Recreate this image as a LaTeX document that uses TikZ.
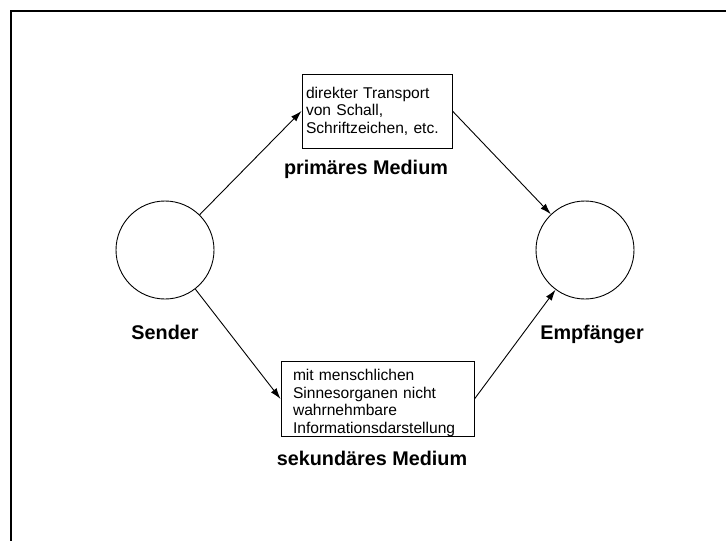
\documentclass[tikz,border=0pt]{standalone}
\usepackage{fontspec}
\setmainfont{Liberation Sans}
\usetikzlibrary{arrows.meta}

\begin{document}
\begin{tikzpicture}[x=1pt, y=-1pt,
        party/.style={draw, line width=0.9pt, circle, minimum size=98pt, inner sep=0pt},
        medium/.style={draw, line width=0.9pt, rectangle, align=left, inner ysep=0pt,
            font=\fontsize{15.6}{17.5}\selectfont},
        caption/.style={anchor=base, font=\fontsize{19.8}{22}\selectfont\bfseries},
        ->/.style={-{Latex[length=11pt, width=7pt]}, line width=0.9pt}]
        \useasboundingbox (0, 0) rectangle (726, 541);
        \draw[line width=1.6pt] (726, 11) -- (11, 11) -- (11, 541);

        \node[party] (sender) at (165, 250) {};
        \node[party] (empf) at (585, 250) {};
        \node[caption] (senderlabel) at (165, 339) {Sender};
        \node[caption] (empflabel) at (592, 339) {Empfänger};

        \node[medium, text width=142pt, inner xsep=4pt, minimum height=74pt] (prim) at (377, 111)
            {direkter Transport\\von Schall,\\Schriftzeichen, etc.};
        \node[caption] (primlabel) at (366, 174) {primäres Medium};

        \node[medium, text width=169pt, inner xsep=12pt, minimum height=73pt] (sek) at (377.5, 399)
            {\rule{0pt}{19pt}mit menschlichen\\Sinnesorganen nicht\\wahrnehmbare\\Informationsdarstellung};
        \node[caption] (seklabel) at (372, 465) {sekundäres Medium};

        \draw[->] (sender) -- (prim.west);
        \draw[->] (prim.east) -- (empf);
        \draw[->] (sender) -- (sek.west);
        \draw[->] (sek.east) -- (empf);
    \end{tikzpicture}
\end{document}
